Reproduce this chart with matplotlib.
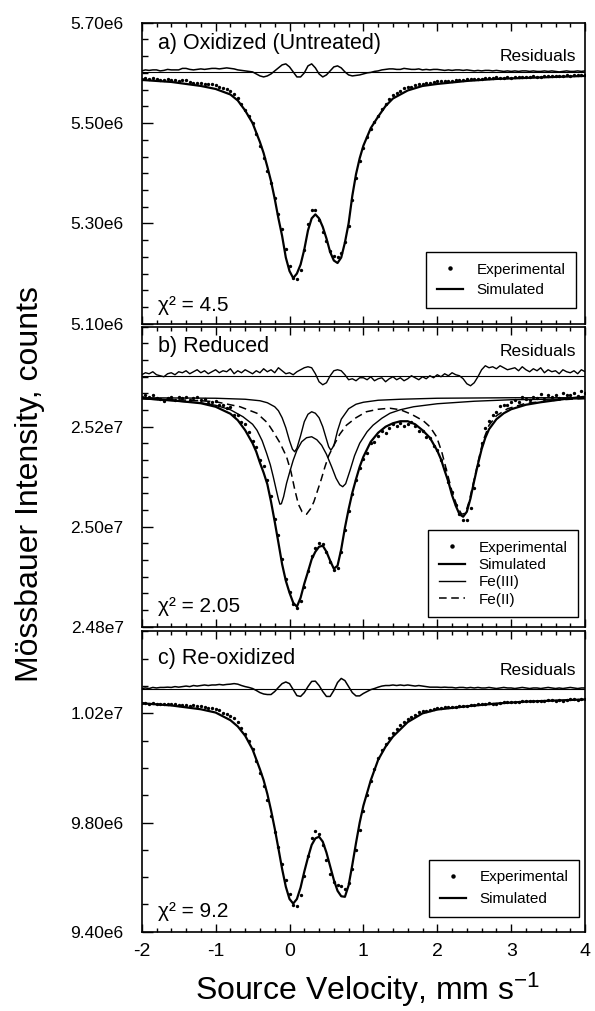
import matplotlib
matplotlib.use('Agg')
import matplotlib.pyplot as plt
import numpy as np
from matplotlib.lines import Line2D
from matplotlib.ticker import MultipleLocator, AutoMinorLocator

plt.rcParams['font.family'] = ['Liberation Sans', 'DejaVu Sans']
plt.rcParams['mathtext.fontset'] = 'custom'
plt.rcParams['mathtext.rm'] = 'Liberation Sans'
plt.rcParams['mathtext.it'] = 'Liberation Sans:italic'
plt.rcParams['axes.unicode_minus'] = False

# measured channels, mm/s (uniform channel spacing)
velocity = np.round(np.arange(-2.0, 4.0001, 0.05), 2)

# ---- a) oxidized, counts / 1e6
exp_a = [
    5.588, 5.590, 5.588, 5.589, 5.588, 5.586, 5.586, 5.587, 5.586, 5.585,
    5.584, 5.586, 5.585, 5.582, 5.580, 5.580, 5.580, 5.578, 5.577, 5.577,
    5.575, 5.572, 5.570, 5.568, 5.564, 5.558, 5.549, 5.539, 5.527, 5.514,
    5.500, 5.479, 5.454, 5.430, 5.405, 5.380, 5.351, 5.318, 5.289, 5.248,
    5.215, 5.191, 5.190, 5.208, 5.246, 5.298, 5.326, 5.326, 5.306, 5.283,
    5.264, 5.245, 5.236, 5.233, 5.240, 5.262, 5.294, 5.347, 5.391, 5.424,
    5.451, 5.472, 5.489, 5.503, 5.515, 5.528, 5.539, 5.548, 5.555, 5.559,
    5.563, 5.569, 5.571, 5.572, 5.575, 5.578, 5.578, 5.580, 5.580, 5.582,
    5.583, 5.583, 5.583, 5.584, 5.584, 5.586, 5.586, 5.586, 5.588, 5.587,
    5.587, 5.588, 5.588, 5.589, 5.590, 5.589, 5.591, 5.590, 5.589, 5.591,
    5.590, 5.592, 5.591, 5.592, 5.592, 5.592, 5.593, 5.592, 5.592, 5.594,
    5.593, 5.594, 5.593, 5.593, 5.594, 5.595, 5.594, 5.595, 5.596, 5.595,
    5.596,
]
sim_ac_v = [-2.0, -1.6, -1.2, -1.0, -0.8, -0.7, -0.6, -0.5,
            -0.4, -0.35, -0.3, -0.25, -0.2, -0.15, -0.1, -0.05, 0.0, 0.05,
            0.1, 0.15, 0.2, 0.25, 0.3, 0.35, 0.4, 0.45, 0.5, 0.55, 0.6, 0.65,
            0.7, 0.75, 0.8, 0.85, 0.9, 0.95,
            1.0, 1.1, 1.2, 1.3, 1.4, 1.6, 1.8, 2.0, 2.4, 2.8, 3.2, 3.6, 4.0]
sim_a = [5.586, 5.582, 5.574, 5.568, 5.557, 5.545, 5.525, 5.500,
         5.462, 5.440, 5.413, 5.384, 5.349, 5.310, 5.275, 5.232, 5.205, 5.191,
         5.200, 5.218, 5.248, 5.286, 5.310, 5.318, 5.310, 5.293, 5.270, 5.243,
         5.226, 5.221, 5.232, 5.262, 5.300, 5.355, 5.398, 5.430,
         5.455, 5.490, 5.513, 5.534, 5.549, 5.565, 5.574, 5.578, 5.584, 5.588,
         5.590, 5.592, 5.594]
# residuals, thousands of counts
resid_a = [
    2, 4, 3, 4, 4, 2, 3, 5, 4, 4, 4, 7, 7, 5, 4, 5, 6, 5, 6, 7,
    7, 6, 7, 8, 7, 6, 4, 3, 2, 1, 0, -4, -8, -10, -8, -4, 2, 8, 14, 16,
    10, 0, -10, -10, -2, 12, 16, 8, -4, -10, -6, 2, 10, 12, 8, 0, -6, -8, -7, -6,
    -4, -2, -1, 1, 2, 4, 5, 6, 6, 5, 5, 7, 6, 5, 5, 6, 4, 5, 4, 5,
    5, 4, 3, 4, 3, 4, 4, 3, 4, 3, 2, 3, 2, 3, 3, 2, 3, 2, 1, 2,
    1, 2, 1, 2, 2, 1, 2, 1, 1, 2, 1, 2, 1, 0, 1, 2, 1, 1, 2, 1,
    2,
]
resid_a_base = 5.602

# ---- b) reduced, counts / 1e7
exp_b = [
    2.5259, 2.5263, 2.5260, 2.5264, 2.5257, 2.5255, 2.5252, 2.5258, 2.5259, 2.5254,
    2.5260, 2.5257, 2.5260, 2.5254, 2.5257, 2.5260, 2.5253, 2.5256, 2.5248, 2.5250,
    2.5252, 2.5243, 2.5244, 2.5238, 2.5240, 2.5224, 2.5223, 2.5209, 2.5205, 2.5189,
    2.5171, 2.5160, 2.5134, 2.5122, 2.5093, 2.5062, 2.5016, 2.4984, 2.4935, 2.4896,
    2.4870, 2.4846, 2.4837, 2.4852, 2.4880, 2.4912, 2.4942, 2.4958, 2.4968, 2.4966,
    2.4950, 2.4930, 2.4914, 2.4918, 2.4950, 2.4994, 2.5032, 2.5066, 2.5094, 2.5118,
    2.5136, 2.5148, 2.5168, 2.5170, 2.5182, 2.5191, 2.5188, 2.5198, 2.5205, 2.5201,
    2.5207, 2.5201, 2.5205, 2.5209, 2.5201, 2.5192, 2.5191, 2.5180, 2.5178, 2.5162,
    2.5154, 2.5133, 2.5116, 2.5090, 2.5069, 2.5044, 2.5025, 2.5014, 2.5014, 2.5037,
    2.5078, 2.5123, 2.5167, 2.5198, 2.5211, 2.5224, 2.5229, 2.5242, 2.5243, 2.5243,
    2.5249, 2.5253, 2.5250, 2.5260, 2.5256, 2.5253, 2.5260, 2.5258, 2.5265, 2.5256,
    2.5263, 2.5260, 2.5263, 2.5258, 2.5267, 2.5264, 2.5263, 2.5268, 2.5262, 2.5271,
    2.5268,
]
sim_b_v = [-2.0, -1.6, -1.2, -1.0, -0.8, -0.7, -0.6, -0.5,
           -0.45, -0.4, -0.35, -0.3, -0.25, -0.2, -0.15, -0.1, -0.05, 0.0,
           0.05, 0.1, 0.15, 0.2, 0.25, 0.3, 0.35, 0.4, 0.45, 0.5,
           0.55, 0.6, 0.65, 0.7, 0.75, 0.8, 0.85, 0.9, 0.95, 1.0,
           1.1, 1.2, 1.3, 1.4, 1.5, 1.6, 1.7, 1.8, 1.9, 2.0,
           2.05, 2.1, 2.15, 2.2, 2.25, 2.3, 2.35, 2.4, 2.45, 2.5, 2.55, 2.6, 2.65, 2.7,
           2.8, 2.9, 3.0, 3.2, 3.4, 3.6, 3.8, 4.0]
sim_b = [2.5257, 2.5253, 2.5247, 2.5240, 2.5226, 2.5213, 2.5193, 2.5167,
         2.5150, 2.5128, 2.5108, 2.5085, 2.5050, 2.5010, 2.4968, 2.4925, 2.4892, 2.4868,
         2.4848, 2.4840, 2.4858, 2.4886, 2.4910, 2.4935, 2.4950, 2.4960, 2.4962, 2.4950,
         2.4932, 2.4916, 2.4922, 2.4955, 2.4998, 2.5035, 2.5068, 2.5095, 2.5120, 2.5140,
         2.5170, 2.5188, 2.5200, 2.5207, 2.5211, 2.5211, 2.5205, 2.5193, 2.5178, 2.5152,
         2.5135, 2.5112, 2.5090, 2.5063, 2.5042, 2.5025, 2.5020, 2.5030, 2.5057, 2.5092,
         2.5125, 2.5155, 2.5178, 2.5195,
         2.5215, 2.5227, 2.5235, 2.5244, 2.5249, 2.5253, 2.5257, 2.5260]
fe3a_v = [-2.0, -1.0, -0.6, -0.4, -0.3, -0.2, -0.15, -0.1, -0.05, 0.0, 0.04, 0.07,
          0.1, 0.15, 0.2, 0.25, 0.3, 0.35, 0.4, 0.45, 0.5, 0.53, 0.56, 0.6,
          0.65, 0.7, 0.8, 0.9, 1.0, 1.2, 1.5, 2.0, 3.0, 4.0]
fe3a = [2.5258, 2.5257, 2.5255, 2.5252, 2.5248, 2.5240, 2.5232, 2.5218, 2.5198, 2.5172,
        2.5155, 2.5150, 2.5157, 2.5182, 2.5210, 2.5225, 2.5230, 2.5227, 2.5218, 2.5200,
        2.5175, 2.5160, 2.5153, 2.5162, 2.5192, 2.5215, 2.5236, 2.5245, 2.5249, 2.5253,
        2.5255, 2.5257, 2.5258, 2.5258]
fe3b_v = [-2.0, -1.2, -1.0, -0.8, -0.63, -0.5, -0.44, -0.37, -0.31, -0.26,
          -0.22, -0.18, -0.15, -0.13, -0.11, -0.08, -0.04, 0.0, 0.05, 0.1,
          0.165, 0.23, 0.3, 0.37, 0.435, 0.5, 0.57, 0.63, 0.68, 0.72,
          0.76, 0.82, 0.88, 0.95, 1.05, 1.13, 1.25, 1.36, 1.5, 1.68,
          2.0, 2.5, 3.0, 4.0]
fe3b = [2.5256, 2.5248, 2.5243, 2.5234, 2.5220, 2.5205, 2.5193, 2.5172, 2.5147, 2.5124,
        2.5100, 2.5074, 2.5055, 2.5045, 2.5046, 2.5060, 2.5087, 2.5108, 2.5133, 2.5153,
        2.5170, 2.5178, 2.5180, 2.5174, 2.5163, 2.5145, 2.5120, 2.5097, 2.5084, 2.5080,
        2.5086, 2.5113, 2.5142, 2.5167, 2.5190, 2.5203, 2.5217, 2.5227, 2.5234, 2.5240,
        2.5246, 2.5251, 2.5254, 2.5256]
fe2_v = [-2.0, -1.2, -1.0, -0.67, -0.44, -0.3, -0.22, -0.13, -0.04, 0.02,
         0.07, 0.12, 0.17, 0.23, 0.29, 0.33, 0.37, 0.43, 0.48, 0.53,
         0.59, 0.68, 0.77, 0.9, 1.04, 1.2, 1.36, 1.5, 1.65, 1.81,
         1.9, 1.99, 2.06, 2.13, 2.2, 2.27, 2.33, 2.38, 2.43, 2.5,
         2.56, 2.62, 2.7, 2.8, 2.95, 3.2, 3.6, 4.0]
fe2 = [2.5257, 2.5252, 2.5250, 2.5240, 2.5227, 2.5208, 2.5190, 2.5168, 2.5140, 2.5110,
       2.5075, 2.5045, 2.5030, 2.5025, 2.5037, 2.5050, 2.5068, 2.5095, 2.5120, 2.5142,
       2.5160, 2.5185, 2.5203, 2.5218, 2.5230, 2.5235, 2.5237, 2.5234, 2.5225, 2.5212,
       2.5200, 2.5180, 2.5150, 2.5110, 2.5070, 2.5040, 2.5025, 2.5027, 2.5050, 2.5095,
       2.5135, 2.5172, 2.5203, 2.5222, 2.5236, 2.5247, 2.5253, 2.5257]
resid_b = [
    2, 6, 4, 8, 2, 0, -2, 4, 6, 2, 8, 6, 10, 4, 8, 12, 6, 10, 4, 8,
    12, 6, 10, 8, 14, 4, 10, 6, 12, 8, 4, 10, 6, 14, 8, 12, 6, 16, 10, 4,
    6, 2, 8, 12, 16, 18, 16, 4, -12, -18, -14, 0, 10, 12, 10, 2, -8, -6, -10, -4,
    -4, -8, -2, -10, -6, -4, -12, -6, -2, -8, -4, -10, -6, 0, -4, -8, -2, -6, 0, -4,
    2, -2, 4, 0, 6, 2, 0, -6, -16, -20, -14, -2, 12, 20, 16, 18, 14, 20, 16, 12,
    14, 16, 10, 18, 12, 8, 14, 10, 16, 6, 12, 8, 10, 4, 12, 8, 6, 10, 4, 12,
    8,
]
resid_b_base = 2.5302

# ---- c) re-oxidized, counts / 1e6
exp_c = [
    10.237, 10.238, 10.235, 10.238, 10.235, 10.236, 10.235, 10.235, 10.233, 10.234,
    10.231, 10.231, 10.231, 10.227, 10.230, 10.226, 10.226, 10.225, 10.220, 10.219,
    10.216, 10.212, 10.203, 10.198, 10.191, 10.182, 10.168, 10.147, 10.125, 10.099,
    10.068, 10.027, 9.980, 9.935, 9.883, 9.823, 9.767, 9.709, 9.648, 9.589,
    9.538, 9.499, 9.494, 9.533, 9.605, 9.679, 9.744, 9.769, 9.759, 9.719,
    9.661, 9.611, 9.583, 9.572, 9.567, 9.557, 9.577, 9.630, 9.698, 9.773,
    9.844, 9.901, 9.951, 9.995, 10.035, 10.065, 10.089, 10.109, 10.128, 10.141,
    10.156, 10.167, 10.181, 10.188, 10.194, 10.204, 10.209, 10.210, 10.212, 10.216,
    10.219, 10.220, 10.222, 10.223, 10.224, 10.223, 10.227, 10.228, 10.228, 10.231,
    10.230, 10.233, 10.233, 10.234, 10.237, 10.236, 10.236, 10.239, 10.242, 10.241,
    10.242, 10.241, 10.243, 10.246, 10.245, 10.244, 10.246, 10.246, 10.245, 10.247,
    10.250, 10.248, 10.247, 10.249, 10.247, 10.250, 10.253, 10.251, 10.250, 10.252,
    10.253,
]
sim_c = [10.237, 10.229, 10.215, 10.203, 10.175, 10.152, 10.118, 10.068,
         9.995, 9.955, 9.905, 9.845, 9.778, 9.705, 9.630, 9.565, 9.520, 9.503,
         9.520, 9.562, 9.620, 9.672, 9.718, 9.742, 9.748, 9.730, 9.690, 9.640,
         9.590, 9.550, 9.530, 9.528, 9.570, 9.645, 9.725, 9.800,
         9.862, 9.955, 10.030, 10.078, 10.115, 10.168, 10.200, 10.214, 10.226, 10.236,
         10.243, 10.247, 10.251]
resid_c = [
    0, 2, 0, 4, 2, 4, 4, 5, 4, 7, 5, 7, 9, 7, 11, 9, 11, 13, 11, 13,
    13, 15, 13, 15, 16, 18, 16, 11, 7, 4, 0, -7, -15, -20, -22, -22, -11, 4, 18, 24,
    18, -4, -26, -29, -15, 7, 26, 27, 11, -11, -29, -29, -7, 22, 37, 29, 7, -15, -27, -27,
    -18, -11, -4, 0, 5, 9, 11, 11, 13, 11, 13, 11, 13, 11, 9, 11, 9, 7, 5, 5,
    5, 4, 5, 4, 4, 2, 4, 4, 2, 4, 2, 4, 2, 2, 4, 2, 0, 2, 4, 2,
    2, 0, 2, 4, 2, 0, 2, 2, 0, 2, 4, 2, 0, 2, 0, 2, 4, 2, 0, 2,
    2,
]
resid_c_base = 10.291

titles = ['a) Oxidized (Untreated)', 'b) Reduced', 'c) Re-oxidized']
chi_labels = ['χ² = 4.5', 'χ² = 2.05', 'χ² = 9.2']
ylims = [(5.10, 5.70), (2.48, 2.54), (9.40, 10.50)]
yticks = [[5.10, 5.30, 5.50, 5.70], [2.48, 2.50, 2.52], [9.40, 9.80, 10.20]]
yticklabels = [['5.10e6', '5.30e6', '5.50e6', '5.70e6'],
               ['2.48e7', '2.50e7', '2.52e7'],
               ['9.40e6', '9.80e6', '1.02e7']]


def style_panel(ax, ylim, ticks, labels, nminor, bottom_labels):
    ax.set_xlim(-2, 4)
    ax.set_ylim(*ylim)
    ax.xaxis.set_major_locator(MultipleLocator(1))
    ax.xaxis.set_minor_locator(MultipleLocator(0.2))
    ax.set_yticks(ticks)
    ax.set_yticklabels(labels)
    ax.yaxis.set_minor_locator(AutoMinorLocator(nminor))
    ax.tick_params(which='both', direction='in', top=True, right=False, width=1)
    ax.tick_params(axis='x', which='major', length=6, labelsize=14, pad=8,
                   labelbottom=bottom_labels)
    ax.tick_params(axis='x', which='minor', length=3)
    ax.tick_params(axis='y', which='major', length=8, labelsize=12.5, pad=13)
    ax.tick_params(axis='y', which='minor', length=4)
    for sp in ax.spines.values():
        sp.set_linewidth(1.2)


def panel_text(ax, title, chi, resid_y, title_y, chi_y):
    ax.text(0.037, title_y, title, transform=ax.transAxes, fontsize=15.5,
            ha='left', va='center')
    ax.text(0.037, chi_y, chi, transform=ax.transAxes, fontsize=15,
            ha='left', va='center')
    ax.text(0.98, resid_y, 'Residuals', transform=ax.transAxes, fontsize=12.5,
            ha='right', va='center')


def add_legend(ax, handles, labels, anchor, spacing):
    leg = ax.legend(handles, labels, loc='lower right', bbox_to_anchor=anchor,
                    borderaxespad=0, fontsize=11, frameon=True, fancybox=False,
                    framealpha=1, edgecolor='black', handlelength=1.7,
                    handletextpad=0.9, labelspacing=spacing, borderpad=0.7)
    leg.get_frame().set_linewidth(1.0)


fig = plt.figure(figsize=(5.95, 10.11), dpi=100)
rects = [[0.2382, 0.6798, 0.7451, 0.2977],
         [0.2382, 0.3801, 0.7451, 0.2967],
         [0.2382, 0.0784, 0.7451, 0.2970]]
axes = [fig.add_axes(r) for r in rects]

dot = dict(linestyle='none', marker='o', markersize=1.4, color='black')
h_exp = Line2D([], [], linestyle='none', marker='o', markersize=2.2, color='black')
h_sim = Line2D([], [], color='black', lw=1.6)
h_fe3 = Line2D([], [], color='black', lw=1.0)
h_fe2 = Line2D([], [], color='black', lw=1.1, linestyle=(0, (5, 3)))

# a)
ax = axes[0]
ax.axhline(resid_a_base, color='black', lw=0.8)
ax.plot(velocity, resid_a_base + np.array(resid_a) / 1000.0, color='black', lw=1.1)
ax.plot(velocity, exp_a, **dot)
ax.plot(sim_ac_v, sim_a, color='black', lw=1.6)
style_panel(ax, ylims[0], yticks[0], yticklabels[0], 6, False)
panel_text(ax, titles[0], chi_labels[0], 0.887, 0.932, 0.062)
add_legend(ax, [h_exp, h_sim], ['Experimental', 'Simulated'], (0.98, 0.052), 0.45)

# b)
ax = axes[1]
ax.axhline(resid_b_base, color='black', lw=0.8)
ax.plot(velocity, resid_b_base + np.array(resid_b) / 10000.0, color='black', lw=1.0)
ax.plot(fe3a_v, fe3a, color='black', lw=1.0)
ax.plot(fe3b_v, fe3b, color='black', lw=1.0)
ax.plot(fe2_v, fe2, color='black', lw=1.1, linestyle=(0, (5, 3)))
ax.plot(velocity, exp_b, **dot)
ax.plot(sim_b_v, sim_b, color='black', lw=1.6)
style_panel(ax, ylims[1], yticks[1], yticklabels[1], 6, False)
panel_text(ax, titles[1], chi_labels[1], 0.917, 0.933, 0.067)
add_legend(ax, [h_exp, h_sim, h_fe3, h_fe2],
           ['Experimental', 'Simulated', 'Fe(III)', 'Fe(II)'], (0.985, 0.031), 0.22)

# c)
ax = axes[2]
ax.axhline(resid_c_base, color='black', lw=0.8)
ax.plot(velocity, resid_c_base + np.array(resid_c) / 1000.0, color='black', lw=1.1)
ax.plot(velocity, exp_c, **dot)
ax.plot(sim_ac_v, sim_c, color='black', lw=1.6)
style_panel(ax, ylims[2], yticks[2], yticklabels[2], 4, True)
panel_text(ax, titles[2], chi_labels[2], 0.871, 0.910, 0.067)
add_legend(ax, [h_exp, h_sim], ['Experimental', 'Simulated'], (0.986, 0.05), 0.5)

fig.text(0.05, 0.521, 'Mössbauer Intensity, counts', rotation=90, fontsize=23,
         ha='center', va='center')
fig.text(0.617, 0.011, r'Source Velocity, mm s$^{-1}$', fontsize=23,
         ha='center', va='baseline')

fig.savefig('out.png', dpi=100)
